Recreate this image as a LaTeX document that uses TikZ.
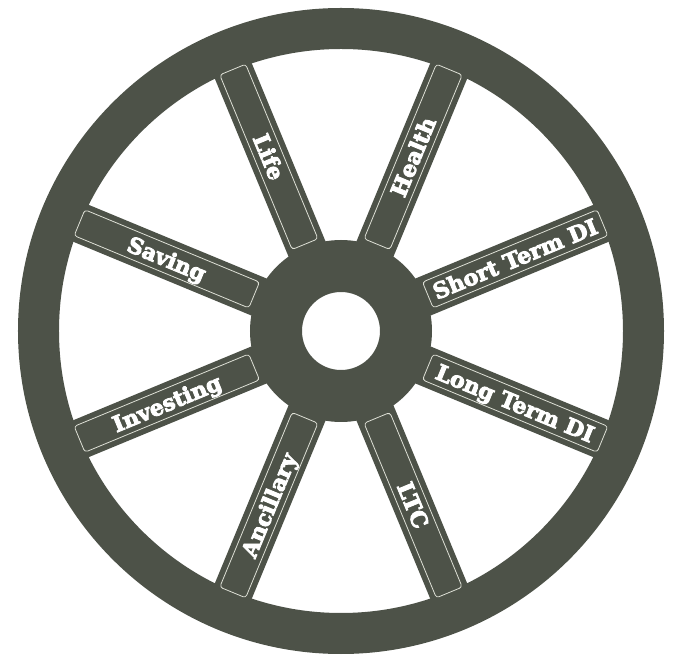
\documentclass[tikz,border=0pt]{standalone}
\usepackage{fontspec}
\setmainfont{DejaVu Serif}
\newfontfamily\heavyfont{DejaVu Serif}[FakeBold=4,BoldFeatures={FakeBold=4}]
\definecolor{wheelgray}{RGB}{77,82,72}
\definecolor{rimline}{RGB}{222,224,214}
\begin{document}
\begin{tikzpicture}[x=1pt,y=1pt,
  wheelfill/.style={fill=wheelgray, draw=none},
  spokebar/.style={wheelfill, rectangle, minimum width=225pt, minimum height=40pt, inner sep=0pt},
  spokebox/.style={rectangle, rounded corners=3pt, draw=rimline, line width=0.8pt,
    minimum width=189pt, minimum height=28pt, inner sep=0pt,
    text=white, font=\heavyfont\bfseries\fontsize{22}{24}\selectfont,
    text height=16pt, text depth=0pt}]
\useasboundingbox (-341,-324) rectangle (336,331);
% rim
\fill[wheelgray, even odd rule] (0,0) circle (323) (0,0) circle (282);
% spokes
\foreach \a/\n in {22.5/s1,67.5/s2,112.5/s3,157.5/s4,202.5/s5,247.5/s6,292.5/s7,337.5/s8}{
  \node[spokebar, rotate=\a] (\n) at (\a:190) {};
}
% hub
\fill[wheelgray, even odd rule] (0,0) circle (91) (0,0) circle (39);
\node[inner sep=0pt, minimum size=78pt, circle] (hole) at (0,0) {};
% labelled boxes
\node[spokebox, rotate=22.5]  (shortdi) at (22.5:188.5)  {Short Term DI};
\node[spokebox, rotate=67.5]  (health)  at (67.5:188.5)  {Health};
\node[spokebox, rotate=-67.5] (life)    at (112.5:188.5) {Life};
\node[spokebox, rotate=-22.5] (saving)  at (157.5:188.5) {Saving};
\node[spokebox, rotate=22.5]  (invest)  at (202.5:188.5) {Investing};
\node[spokebox, rotate=67.5]  (ancil)   at (247.5:188.5) {Ancillary};
\node[spokebox, rotate=-67.5] (ltc)     at (292.5:188.5) {LTC};
\node[spokebox, rotate=-22.5] (longdi)  at (337.5:188.5) {Long Term DI};
\end{tikzpicture}
\end{document}
